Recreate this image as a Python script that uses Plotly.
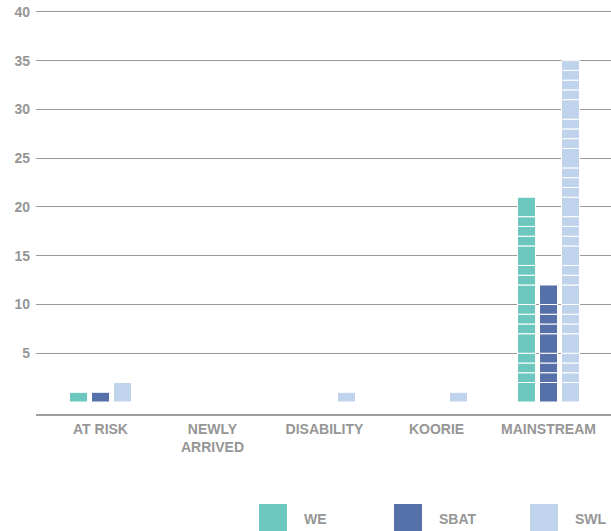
import plotly.graph_objects as go

# ---- data ----
categories = ["AT RISK", "NEWLY<br>ARRIVED", "DISABILITY", "KOORIE", "MAINSTREAM"]
series_names = ["WE", "SBAT", "SWL"]
we_values = [1, 0, 0, 0, 21]
sbat_values = [1, 0, 0, 0, 12]
swl_values = [2, 0, 1, 1, 35]
y_tick_values = [5, 10, 15, 20, 25, 30, 35, 40]

# ---- style ----
colors = ["#6cc8bf", "#5671a9", "#bfd3ec"]
SKIP_SEPARATORS = {1, 6, 11, 15, 20, 25, 30}  # units where the striped fill shows no white line
LABEL_GREY = "#969696"
GRID_GREY = "#9a9a9a"
FONT = "Liberation Sans"
group_offset = 0.1964
bar_w = 0.1607
TOP_M = 7
BOT_M = 117
PLOT_H = 531 - TOP_M - BOT_M

fig = go.Figure()
all_values = [we_values, sbat_values, swl_values]
for j, (name, vals, col) in enumerate(zip(series_names, all_values, colors)):
    xs, ys, bases = [], [], []
    for i, v in enumerate(vals):
        if v <= 0:
            continue
        bounds = [0] + [k for k in range(1, v) if k not in SKIP_SEPARATORS] + [v]
        for b0, b1 in zip(bounds[:-1], bounds[1:]):
            xs.append(i + (j - 1) * group_offset)
            ys.append(b1 - b0)
            bases.append(b0)
    fig.add_trace(go.Bar(
        x=xs, y=ys, base=bases, name=name, width=bar_w,
        marker=dict(color=col, line=dict(color="white", width=1)),
        hoverinfo="skip", showlegend=False,
    ))

fig.update_layout(
    width=611, height=531,
    margin=dict(l=36, r=0, t=TOP_M, b=BOT_M),
    plot_bgcolor="white", paper_bgcolor="white",
    barmode="overlay",
    showlegend=False,
    font=dict(family=FONT, color=LABEL_GREY, size=14),
)
fig.update_xaxes(
    range=[-0.5759, 4.558],
    tickmode="array", tickvals=list(range(len(categories))), ticktext=categories,
    tickfont=dict(family=FONT, size=14, color=LABEL_GREY, weight="bold"),
    showgrid=False, zeroline=False,
    showline=True, linecolor="#9d9da3", linewidth=2,
    ticks="", ticklabelstandoff=1,
)
fig.update_yaxes(
    range=[-1.23, 40.5],
    tickmode="array", tickvals=y_tick_values,
    tickfont=dict(family=FONT, size=14, color=LABEL_GREY, weight="bold"),
    showgrid=True, gridcolor=GRID_GREY, gridwidth=1,
    zeroline=False, showline=False, ticks="", ticklabelstandoff=5,
)

# ---- manual legend (large swatches) ----
def px_x(X):
    return (X - 36) / 575

def px_y(Y):
    return (414 - Y) / PLOT_H

legend_box_left = [259, 394, 530]
for name, col, bx in zip(series_names, colors, legend_box_left):
    fig.add_shape(type="rect", xref="paper", yref="paper",
                  x0=px_x(bx), x1=px_x(bx + 28), y0=px_y(532), y1=px_y(504),
                  fillcolor=col, line=dict(width=0), layer="above")
    fig.add_annotation(xref="paper", yref="paper", x=px_x(bx + 43), y=px_y(518.5),
                       text=name, showarrow=False, xanchor="left", yanchor="middle",
                       font=dict(family=FONT, size=14, color=LABEL_GREY, weight="bold"))

fig.write_html("out.html")
